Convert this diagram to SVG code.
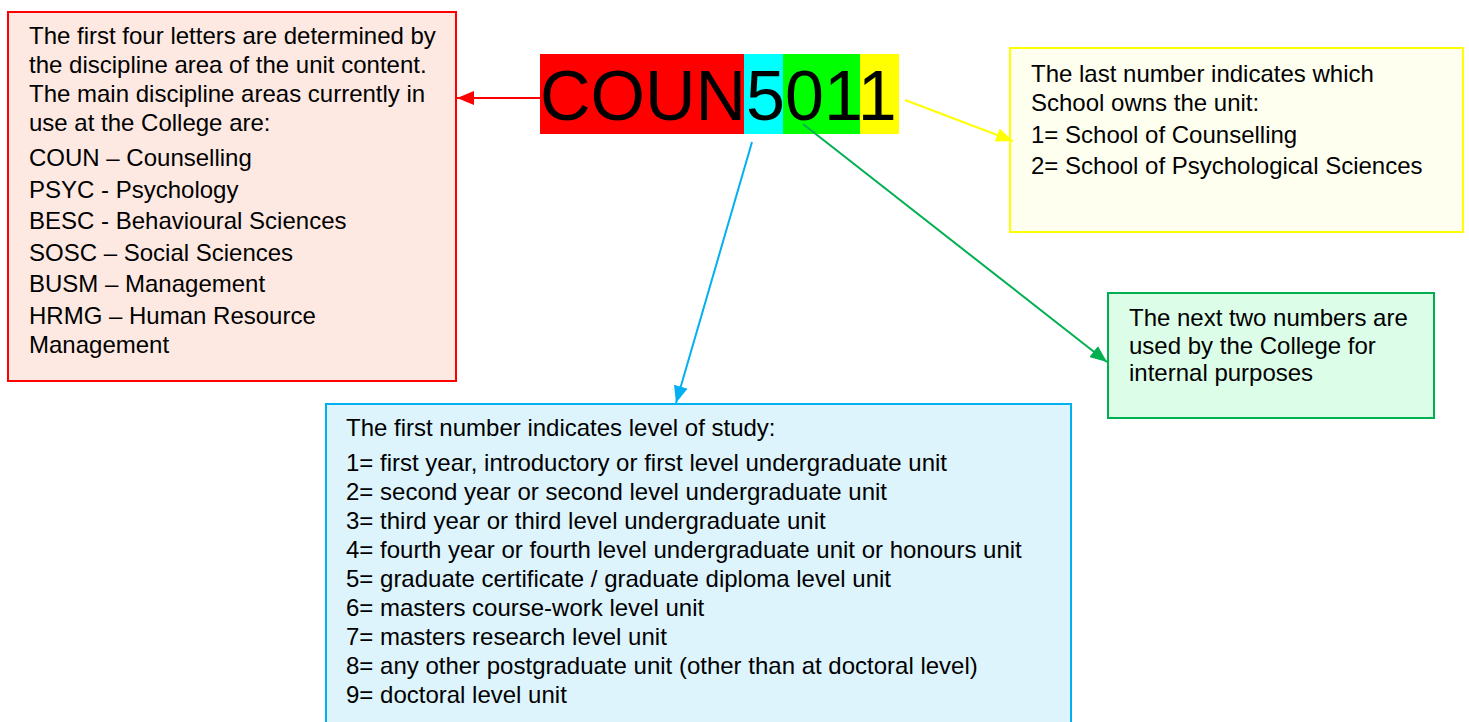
<svg xmlns="http://www.w3.org/2000/svg" width="1469" height="722" viewBox="0 0 1469 722">
<style>
.t{font-family:"Liberation Sans",Arial,sans-serif;font-size:24px;fill:#000}
.big{font-family:"Liberation Sans",Arial,sans-serif;font-size:70px;fill:#000}
</style>
<defs>
<marker id="aR" markerUnits="userSpaceOnUse" markerWidth="17" markerHeight="14" refX="17" refY="7" orient="auto"><path d="M0,0 L17,7 L0,14 z" fill="#FF0000"/></marker>
<marker id="aY" markerUnits="userSpaceOnUse" markerWidth="17" markerHeight="14" refX="17" refY="7" orient="auto"><path d="M0,0 L17,7 L0,14 z" fill="#FFFF00"/></marker>
<marker id="aB" markerUnits="userSpaceOnUse" markerWidth="17" markerHeight="14" refX="17" refY="7" orient="auto"><path d="M0,0 L17,7 L0,14 z" fill="#00B0F0"/></marker>
<marker id="aG" markerUnits="userSpaceOnUse" markerWidth="17" markerHeight="14" refX="17" refY="7" orient="auto"><path d="M0,0 L17,7 L0,14 z" fill="#00B050"/></marker>
</defs>
<rect width="1469" height="722" fill="#fff"/>

<g id="code">
<rect x="540" y="54" width="204" height="80" fill="#FF0000"/>
<rect x="744" y="54" width="39" height="80" fill="#00FFFF"/>
<rect x="783" y="54" width="77" height="80" fill="#00FF00"/>
<rect x="860" y="54" width="39" height="80" fill="#FFFF00"/>
<text class="big" x="540" y="120">COUN5011</text>
</g>

<g id="letters">
<rect x="8" y="12" width="448" height="369" fill="#FDE9E2" stroke="#FF0000" stroke-width="2"/>
<text class="t" x="29" y="44">The first four letters are determined by</text>
<text class="t" x="29" y="73">the discipline area of the unit content.</text>
<text class="t" x="29" y="102">The main discipline areas currently in</text>
<text class="t" x="29" y="131">use at the College are:</text>
<text class="t" x="29" y="166">COUN – Counselling</text>
<text class="t" x="29" y="197.5">PSYC - Psychology</text>
<text class="t" x="29" y="229">BESC - Behavioural Sciences</text>
<text class="t" x="29" y="260.5">SOSC – Social Sciences</text>
<text class="t" x="29" y="292">BUSM – Management</text>
<text class="t" x="29" y="324">HRMG – Human Resource</text>
<text class="t" x="29" y="353">Management</text>
</g>

<g id="school">
<rect x="1010" y="48" width="453" height="184" fill="#FFFFF0" stroke="#FFFF00" stroke-width="2"/>
<text class="t" x="1031" y="82">The last number indicates which</text>
<text class="t" x="1031" y="111">School owns the unit:</text>
<text class="t" x="1031" y="143">1= School of Counselling</text>
<text class="t" x="1031" y="174">2= School of Psychological Sciences</text>
</g>

<g id="internal">
<rect x="1108" y="293" width="326" height="125" fill="#DCFDE8" stroke="#00B050" stroke-width="2"/>
<text class="t" x="1129" y="326">The next two numbers are</text>
<text class="t" x="1129" y="354">used by the College for</text>
<text class="t" x="1129" y="381">internal purposes</text>
</g>

<g id="level">
<rect x="326" y="404" width="745" height="330" fill="#DDF4FD" stroke="#00B0F0" stroke-width="2"/>
<text class="t" x="346" y="436">The first number indicates level of study:</text>
<text class="t" x="346" y="471">1= first year, introductory or first level undergraduate unit</text>
<text class="t" x="346" y="500">2= second year or second level undergraduate unit</text>
<text class="t" x="346" y="529">3= third year or third level undergraduate unit</text>
<text class="t" x="346" y="558">4= fourth year or fourth level undergraduate unit or honours unit</text>
<text class="t" x="346" y="587">5= graduate certificate / graduate diploma level unit</text>
<text class="t" x="346" y="616">6= masters course-work level unit</text>
<text class="t" x="346" y="645">7= masters research level unit</text>
<text class="t" x="346" y="674">8= any other postgraduate unit (other than at doctoral level)</text>
<text class="t" x="346" y="703">9= doctoral level unit</text>
</g>

<g id="connectors" fill="none" stroke-width="2">
<line x1="540" y1="98" x2="457" y2="98" stroke="#FF0000" marker-end="url(#aR)"/>
<line x1="905" y1="100" x2="1013" y2="141" stroke="#FFFF00" marker-end="url(#aY)"/>
<line x1="752" y1="142" x2="676" y2="403" stroke="#00B0F0" marker-end="url(#aB)"/>
<line x1="803" y1="124" x2="1107" y2="362" stroke="#00B050" marker-end="url(#aG)"/>
</g>
</svg>
